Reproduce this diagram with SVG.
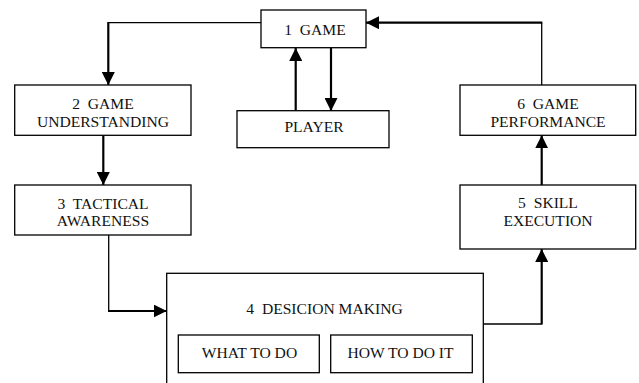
<svg xmlns="http://www.w3.org/2000/svg" width="639" height="383" viewBox="0 0 639 383">
<style>
.box{fill:#fff;stroke:#000;stroke-width:1.3}
.t{font-size:15.6px;fill:#111;text-anchor:middle}
.thin{fill:none;stroke:#000;stroke-width:1.3}
.thick{fill:none;stroke:#000;stroke-width:2.2}
</style>
<defs>
<marker id="ah" viewBox="0 0 13 13" refX="13" refY="6.5" markerWidth="13" markerHeight="13" markerUnits="userSpaceOnUse" orient="auto">
<path d="M0,0 L13,6.5 L0,13 Z" fill="#000"/>
</marker>
</defs>
<g id="connectors">
<path class="thin" d="M261,22.7 H108.3"/>
<path class="thick" d="M108.3,22 V85" marker-end="url(#ah)"/>
<path class="thick" d="M295.7,111 V48" marker-end="url(#ah)"/>
<path class="thick" d="M331,48 V111" marker-end="url(#ah)"/>
<path class="thick" d="M103.3,135.3 V185" marker-end="url(#ah)"/>
<path class="thin" d="M108.7,235 V311"/>
<path class="thick" d="M108,311 H166.7" marker-end="url(#ah)"/>
<path class="thin" d="M483.3,324 H541.7"/>
<path class="thick" d="M541.7,324.5 V249" marker-end="url(#ah)"/>
<path class="thick" d="M541.7,185 V135.3" marker-end="url(#ah)"/>
<path class="thin" d="M541.7,85 V22.7"/>
<path class="thick" d="M542.3,22.7 H366" marker-end="url(#ah)"/>
</g>
<g font-family="Liberation Serif">
<g id="game">
<rect class="box" x="261" y="10" width="105" height="37.7"/>
<text class="t" x="315" y="34.5" xml:space="preserve">1  GAME</text>
</g>
<g id="player">
<rect class="box" x="237" y="110.7" width="152" height="37"/>
<text class="t" x="314" y="132.3">PLAYER</text>
</g>
<g id="understanding">
<rect class="box" x="14.7" y="85" width="176.3" height="50.3"/>
<text class="t" x="103" y="109" xml:space="preserve">2  GAME</text>
<text class="t" x="103" y="126.7">UNDERSTANDING</text>
</g>
<g id="tactical">
<rect class="box" x="14.7" y="185" width="176.3" height="50"/>
<text class="t" x="103" y="208.5" xml:space="preserve">3  TACTICAL</text>
<text class="t" x="103" y="226">AWARENESS</text>
</g>
<g id="decision">
<rect class="box" x="166.7" y="273.3" width="316.6" height="112"/>
<text class="t" x="324.5" y="314" xml:space="preserve">4  DESICION MAKING</text>
</g>
<g id="what">
<rect class="box" x="178.3" y="335" width="141" height="37.7"/>
<text class="t" x="249.5" y="357.7">WHAT TO DO</text>
</g>
<g id="how">
<rect class="box" x="330.7" y="335" width="141.6" height="37.7"/>
<text class="t" x="400.5" y="357.7">HOW TO DO IT</text>
</g>
<g id="skill">
<rect class="box" x="460" y="185" width="175.7" height="64"/>
<text class="t" x="548" y="208.3" xml:space="preserve">5  SKILL</text>
<text class="t" x="548" y="226">EXECUTION</text>
</g>
<g id="performance">
<rect class="box" x="460" y="85" width="175.7" height="50.3"/>
<text class="t" x="548" y="108.7" xml:space="preserve">6  GAME</text>
<text class="t" x="548" y="126.7">PERFORMANCE</text>
</g>
</g>
</svg>
